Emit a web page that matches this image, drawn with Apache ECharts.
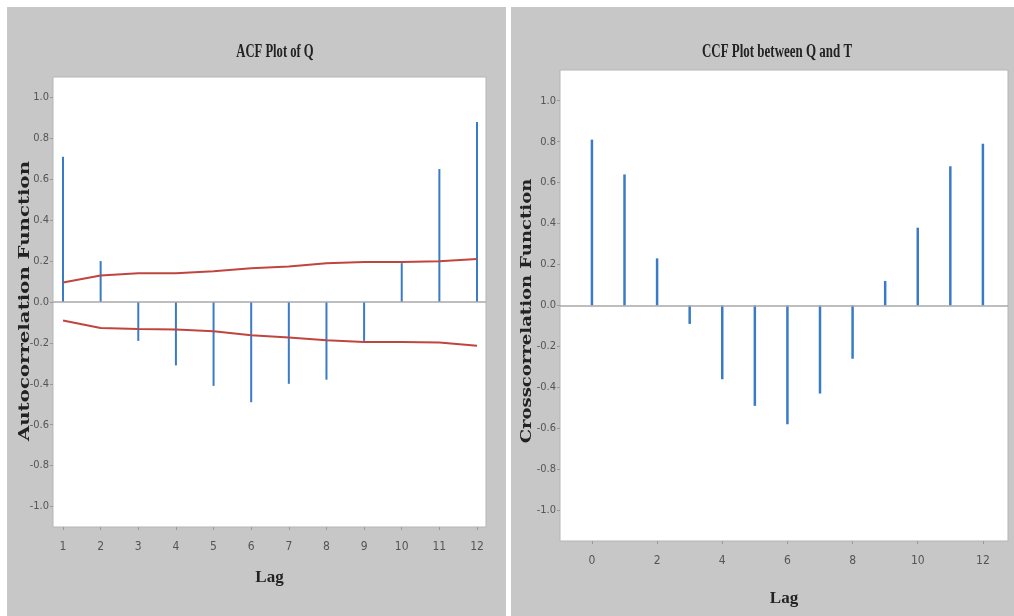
<!DOCTYPE html>
<html>
<head>
<meta charset="utf-8">
<script src="https://cdn.jsdelivr.net/npm/echarts@6/dist/echarts.min.js"></script>
<style>
html,body{margin:0;padding:0;background:#ffffff;}
#chart{width:1014px;height:616px;}
</style>
</head>
<body>
<div id="chart"></div>
<script>
// ---- data ----
const acfLags = [1, 2, 3, 4, 5, 6, 7, 8, 9, 10, 11, 12];
const acfValues = [0.71, 0.20, -0.19, -0.31, -0.41, -0.49, -0.40, -0.38, -0.19, 0.19, 0.65, 0.88];
const acfUpper = [0.095, 0.13, 0.14, 0.14, 0.15, 0.165, 0.174, 0.19, 0.196, 0.196, 0.199, 0.21];
const acfLower = [-0.09, -0.127, -0.132, -0.135, -0.143, -0.163, -0.173, -0.187, -0.196, -0.196, -0.198, -0.214];
const ccfLags = [0, 1, 2, 3, 4, 5, 6, 7, 8, 9, 10, 11, 12];
const ccfValues = [0.81, 0.64, 0.23, -0.09, -0.36, -0.49, -0.58, -0.43, -0.26, 0.12, 0.38, 0.68, 0.79];
const yTicks = [-1.0, -0.8, -0.6, -0.4, -0.2, 0.0, 0.2, 0.4, 0.6, 0.8, 1.0];
const acfXTicks = [1, 2, 3, 4, 5, 6, 7, 8, 9, 10, 11, 12];
const ccfXTicks = [0, 2, 4, 6, 8, 10, 12];
const acfTitle = 'ACF Plot of Q';
const ccfTitle = 'CCF Plot between Q and T';
const acfYName = 'Autocorrelation Function';
const ccfYName = 'Crosscorrelation Function';

const spikeColor = '#3a7bc8';
const bandColor = '#c0453f';
const tickFont = "'Liberation Sans Narrow','DejaVu Sans Condensed','Liberation Sans',sans-serif";
const serifFont = "'Liberation Serif','DejaVu Serif',serif";
const wideSerif = "'DejaVu Serif','Liberation Serif',serif";

const chart = echarts.init(document.getElementById('chart'), null, {renderer: 'canvas'});

function yAxisCfg(gridIndex) {
  return {
    type: 'value', gridIndex: gridIndex,
    min: gridIndex === 0 ? -1.1 : -1.15, max: gridIndex === 0 ? 1.1 : 1.15,
    axisLine: {show: false, onZero: false},
    axisTick: {show: true, length: 3, lineStyle: {color: '#9a9a9a'}, customValues: yTicks},
    axisLabel: {customValues: yTicks, color: '#555', fontFamily: tickFont, fontSize: 11, margin: 4,
      formatter: v => v.toFixed(1)},
    splitLine: {show: false}
  };
}
function xAxisCfg(gridIndex, min, max, ticks, gap) {
  return {
    type: 'value', gridIndex: gridIndex, min: min, max: max,
    name: 'Lag', nameLocation: 'middle', nameGap: gap, nameMoveOverlap: false,
    nameTextStyle: {fontFamily: serifFont, fontWeight: 'bold', fontSize: 17, color: '#222'},
    axisLine: {show: false, onZero: false},
    axisTick: {show: true, length: 3, lineStyle: {color: '#9a9a9a'}, customValues: ticks},
    axisLabel: {customValues: ticks, color: '#555', fontFamily: tickFont, fontSize: 12, margin: 14},
    splitLine: {show: false}
  };
}

const zeroLine = {
  silent: true, symbol: ['none', 'none'], label: {show: false},
  lineStyle: {color: '#a8a8a8', width: 1.5, type: 'solid'},
  data: [{yAxis: 0}]
};

function titleText(text, x, y, sx) {
  return {type: 'text', x: x, y: y, scaleX: sx, scaleY: 1, z: 10,
    style: {text: text, fill: '#222', font: "bold 18px " + serifFont, align: 'center', verticalAlign: 'middle'}};
}
function yNameText(text, x, y, sx) {
  return {type: 'text', x: x, y: y, rotation: Math.PI / 2, scaleX: sx, scaleY: 0.9, z: 10,
    style: {text: text, fill: '#222', font: "bold 17px " + wideSerif, align: 'center', verticalAlign: 'middle'}};
}

const option = {
  backgroundColor: '#ffffff',
  animation: false,
  graphic: [
    {type: 'rect', shape: {x: 7, y: 7, width: 499, height: 609}, style: {fill: '#c7c7c7'}, z: -10},
    {type: 'rect', shape: {x: 511, y: 7, width: 503, height: 609}, style: {fill: '#c7c7c7'}, z: -10},
    titleText(acfTitle, 275, 52, 0.70),
    titleText(ccfTitle, 777, 52, 0.72),
    yNameText(acfYName, 25, 301, 1.16),
    yNameText(ccfYName, 527, 311, 1.06)
  ],
  grid: [
    {left: 53, top: 77, width: 433, height: 450, show: true, backgroundColor: '#ffffff', borderColor: '#b5b5b5', borderWidth: 1},
    {left: 560, top: 70, width: 448, height: 471, show: true, backgroundColor: '#ffffff', borderColor: '#b5b5b5', borderWidth: 1}
  ],
  xAxis: [
    xAxisCfg(0, 0.734, 12.239, acfXTicks, 42),
    xAxisCfg(1, -0.98, 12.77, ccfXTicks, 49)
  ],
  yAxis: [
    yAxisCfg(0),
    yAxisCfg(1)
  ],
  series: [
    {type: 'bar', xAxisIndex: 0, yAxisIndex: 0, barWidth: 2,
      itemStyle: {color: spikeColor},
      data: acfLags.map((l, i) => [l, acfValues[i]]),
      markLine: zeroLine, z: 3},
    {type: 'line', xAxisIndex: 0, yAxisIndex: 0, showSymbol: false, symbol: 'none',
      lineStyle: {color: bandColor, width: 2}, data: acfLags.map((l, i) => [l, acfUpper[i]]), z: 4},
    {type: 'line', xAxisIndex: 0, yAxisIndex: 0, showSymbol: false, symbol: 'none',
      lineStyle: {color: bandColor, width: 2}, data: acfLags.map((l, i) => [l, acfLower[i]]), z: 4},
    {type: 'bar', xAxisIndex: 1, yAxisIndex: 1, barWidth: 2.5,
      itemStyle: {color: spikeColor},
      data: ccfLags.map((l, i) => [l, ccfValues[i]]),
      markLine: zeroLine, z: 3}
  ]
};
chart.setOption(option);
</script>
</body>
</html>
